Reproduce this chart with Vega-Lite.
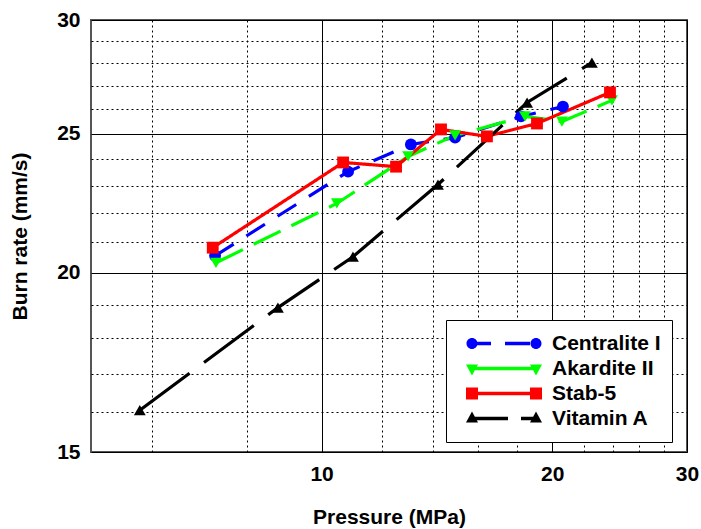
{
  "$schema": "https://vega.github.io/schema/vega-lite/v6.json",
  "width": 596,
  "height": 432,
  "autosize": {"type": "none"},
  "padding": {"left": 91, "top": 20, "right": 14, "bottom": 77},
  "background": "white",
  "config": {
    "view": {"stroke": "#555555", "strokeWidth": 2},
    "font": "Liberation Sans"
  },
  "data": {
    "values": [
      {"s": "Centralite I", "p": 7.26, "r": 20.55},
      {"s": "Centralite I", "p": 10.83, "r": 23.52},
      {"s": "Centralite I", "p": 13.08, "r": 24.57},
      {"s": "Centralite I", "p": 14.94, "r": 24.84},
      {"s": "Centralite I", "p": 18.21, "r": 25.70},
      {"s": "Centralite I", "p": 20.66, "r": 26.11},
      {"s": "Akardite II", "p": 7.28, "r": 20.32},
      {"s": "Akardite II", "p": 10.47, "r": 22.35},
      {"s": "Akardite II", "p": 12.97, "r": 24.10},
      {"s": "Akardite II", "p": 14.94, "r": 24.93},
      {"s": "Akardite II", "p": 18.43, "r": 25.70},
      {"s": "Akardite II", "p": 20.60, "r": 25.49},
      {"s": "Akardite II", "p": 23.94, "r": 26.37},
      {"s": "Stab-5", "p": 7.21, "r": 20.82},
      {"s": "Stab-5", "p": 10.67, "r": 23.87},
      {"s": "Stab-5", "p": 12.51, "r": 23.71},
      {"s": "Stab-5", "p": 14.32, "r": 25.17},
      {"s": "Stab-5", "p": 16.44, "r": 24.89},
      {"s": "Stab-5", "p": 19.11, "r": 25.41},
      {"s": "Stab-5", "p": 23.80, "r": 26.71},
      {"s": "Vitamin A", "p": 5.79, "r": 16.04},
      {"s": "Vitamin A", "p": 8.77, "r": 18.91},
      {"s": "Vitamin A", "p": 10.99, "r": 20.52},
      {"s": "Vitamin A", "p": 14.19, "r": 23.04},
      {"s": "Vitamin A", "p": 18.55, "r": 26.28},
      {"s": "Vitamin A", "p": 22.54, "r": 28.02}
    ]
  },
  "layer": [
    {
      "mark": {"type": "line", "strokeWidth": 3.2},
      "encoding": {
        "x": {
          "field": "p", "type": "quantitative",
          "scale": {"type": "log", "domain": [5, 30], "nice": false},
          "axis": {
            "orient": "bottom",
            "values": [6, 8, 12, 14, 16, 18, 22, 24, 26, 28],
            "grid": true, "gridColor": "black", "gridDash": [2, 3], "gridWidth": 1, "gridOpacity": 1,
            "labels": false, "ticks": false, "domain": false, "title": null
          }
        },
        "y": {
          "field": "r", "type": "quantitative",
          "scale": {"type": "log", "domain": [15, 30], "nice": false},
          "axis": {
            "orient": "left",
            "values": [16, 17, 18, 19, 21, 22, 23, 24, 26, 27, 28, 29],
            "grid": true, "gridColor": "black", "gridDash": [2, 3], "gridWidth": 1, "gridOpacity": 1,
            "labels": false, "ticks": false, "domain": false, "title": null
          }
        },
        "color": {
          "field": "s", "type": "nominal",
          "scale": {
            "domain": ["Centralite I", "Akardite II", "Stab-5", "Vitamin A"],
            "range": ["#0000ff", "#00ff00", "#ff0000", "#000000"]
          },
          "legend": null
        },
        "strokeDash": {
          "field": "s", "type": "nominal",
          "scale": {
            "domain": ["Centralite I", "Akardite II", "Stab-5", "Vitamin A"],
            "range": [[22, 15], [30, 12], [1, 0], [62, 18]]
          },
          "legend": null
        }
      }
    },
    {
      "mark": {"type": "point", "filled": true, "opacity": 1, "size": 140},
      "encoding": {
        "x": {
          "field": "p", "type": "quantitative",
          "scale": {"type": "log", "domain": [5, 30], "nice": false},
          "axis": {
            "orient": "bottom",
            "values": [10, 20, 30],
            "grid": true, "gridColor": "black", "gridWidth": 1, "gridOpacity": 1,
            "ticks": false, "domain": false, "labelFlush": false,
            "labelFont": "Liberation Sans", "labelFontSize": 21, "labelFontWeight": "bold", "labelColor": "black",
            "labelPadding": 11,
            "title": "Pressure (MPa)",
            "titleFont": "Liberation Sans", "titleFontSize": 21, "titleFontWeight": "bold", "titleColor": "black",
            "titlePadding": 22
          }
        },
        "y": {
          "field": "r", "type": "quantitative",
          "scale": {"type": "log", "domain": [15, 30], "nice": false},
          "axis": {
            "orient": "left",
            "values": [15, 20, 25, 30],
            "grid": true, "gridColor": "black", "gridWidth": 1, "gridOpacity": 1,
            "ticks": false, "domain": false, "labelFlush": false,
            "labelFont": "Liberation Sans", "labelFontSize": 21, "labelFontWeight": "bold", "labelColor": "black",
            "labelPadding": 11,
            "title": "Burn rate (mm/s)",
            "titleFont": "Liberation Sans", "titleFontSize": 21, "titleFontWeight": "bold", "titleColor": "black",
            "titlePadding": 26
          }
        },
        "color": {
          "field": "s", "type": "nominal",
          "scale": {
            "domain": ["Centralite I", "Akardite II", "Stab-5", "Vitamin A"],
            "range": ["#0000ff", "#00ff00", "#ff0000", "#000000"]
          },
          "legend": null
        },
        "shape": {
          "field": "s", "type": "nominal",
          "scale": {
            "domain": ["Centralite I", "Akardite II", "Stab-5", "Vitamin A"],
            "range": ["circle", "triangle-down", "square", "triangle-up"]
          },
          "legend": null
        }
      }
    },
    {
      "mark": {"type": "point", "filled": true, "opacity": 0, "size": 5184},
      "encoding": {
        "x": {"field": "p", "type": "quantitative", "scale": {"type": "log", "domain": [5, 30], "nice": false}, "axis": null},
        "y": {"field": "r", "type": "quantitative", "scale": {"type": "log", "domain": [15, 30], "nice": false}, "axis": null},
        "color": {
          "field": "s", "type": "nominal",
          "scale": {
            "domain": ["Centralite I", "Akardite II", "Stab-5", "Vitamin A"],
            "range": ["#0000ff", "#00ff00", "#ff0000", "#000000"]
          },
          "legend": {
            "title": null, "orient": "none", "legendX": 355, "legendY": 300,
            "padding": 11, "symbolOffset": 11, "symbolSize": 5184, "symbolOpacity": 1, "symbolStrokeWidth": 0,
            "clipHeight": 25, "rowPadding": 0, "labelOffset": 12,
            "labelFont": "Liberation Sans", "labelFontSize": 21, "labelFontWeight": "bold", "labelColor": "black",
            "strokeColor": "black", "fillColor": "white"
          }
        },
        "shape": {
          "field": "s", "type": "nominal",
          "scale": {
            "domain": ["Centralite I", "Akardite II", "Stab-5", "Vitamin A"],
            "range": [
              "M-1.042,0 A0.153,0.153 0 0,1 -0.736,0 A0.153,0.153 0 0,1 -1.042,0 Z M-0.889,-0.049 L-0.361,-0.049 L-0.361,0.049 L-0.889,0.049 Z M0.028,-0.049 L0.722,-0.049 L0.722,0.049 L0.028,0.049 Z M0.736,0 A0.153,0.153 0 0,1 1.042,0 A0.153,0.153 0 0,1 0.736,0 Z",
              "M-0.889,-0.049 L0.889,-0.049 L0.889,0.049 L-0.889,0.049 Z M-1.056,-0.111 L-0.722,-0.111 L-0.889,0.194 Z M0.722,-0.111 L1.056,-0.111 L0.889,0.194 Z",
              "M-0.889,-0.049 L0.889,-0.049 L0.889,0.049 L-0.889,0.049 Z M-1.056,-0.167 L-0.722,-0.167 L-0.722,0.167 L-1.056,0.167 Z M0.722,-0.167 L1.056,-0.167 L1.056,0.167 L0.722,0.167 Z",
              "M-0.889,-0.049 L0.111,-0.049 L0.111,0.049 L-0.889,0.049 Z M0.472,-0.049 L0.889,-0.049 L0.889,0.049 L0.472,0.049 Z M-0.889,-0.194 L-0.722,0.111 L-1.056,0.111 Z M0.889,-0.194 L1.056,0.111 L0.722,0.111 Z"
            ]
          },
          "legend": {
            "title": null, "orient": "none", "legendX": 355, "legendY": 300,
            "padding": 11, "symbolOffset": 11, "symbolSize": 5184, "symbolOpacity": 1, "symbolStrokeWidth": 0,
            "clipHeight": 25, "rowPadding": 0, "labelOffset": 12,
            "labelFont": "Liberation Sans", "labelFontSize": 21, "labelFontWeight": "bold", "labelColor": "black",
            "strokeColor": "black", "fillColor": "white"
          }
        }
      }
    }
  ],
  "resolve": {
    "axis": {"x": "independent", "y": "independent"},
    "scale": {"shape": "independent", "color": "independent"}
  }
}
